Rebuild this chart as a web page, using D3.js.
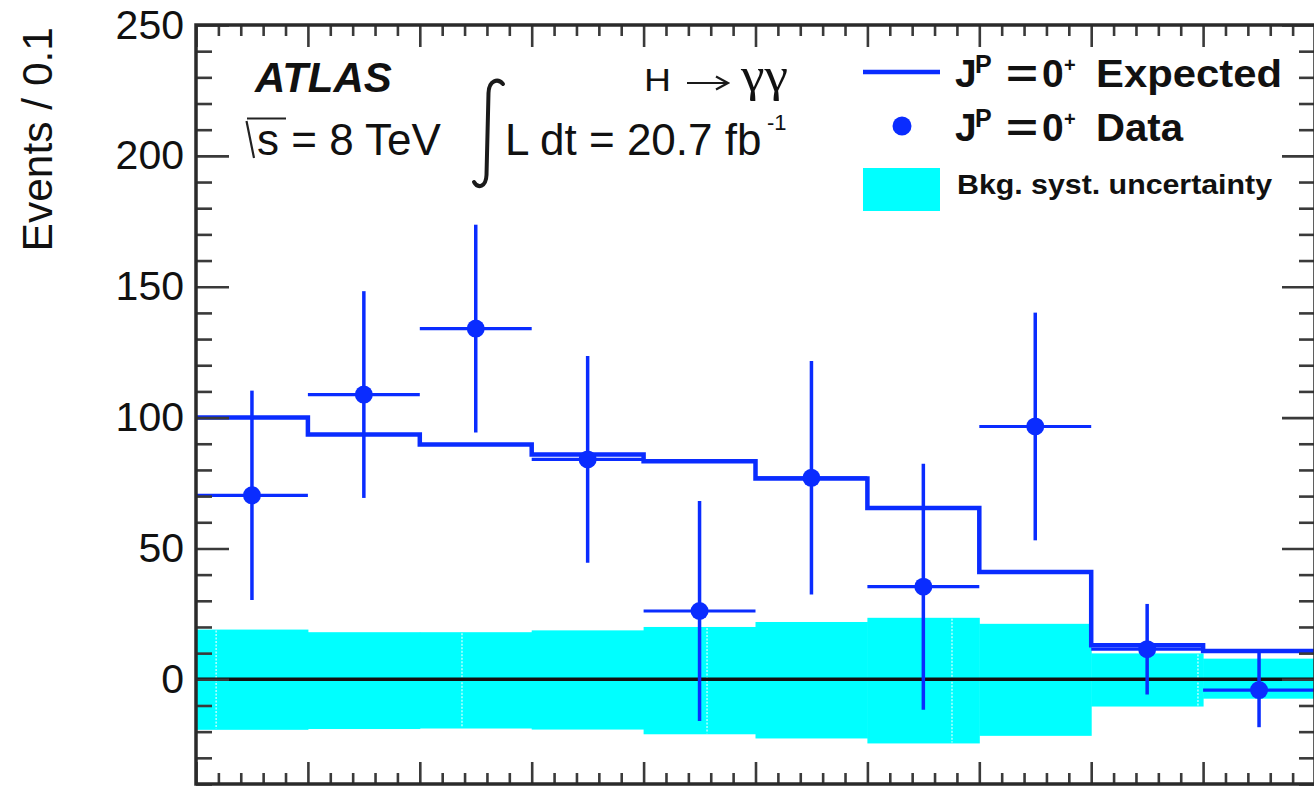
<!DOCTYPE html>
<html>
<head>
<meta charset="utf-8">
<script src="https://cdn.jsdelivr.net/npm/d3@7"></script>
<style>
  html, body { margin: 0; padding: 0; background: #fff; }
  svg { display: block; }
  text { font-family: "Liberation Sans", Arial, Helvetica, sans-serif; fill: #111; }
</style>
</head>
<body>
<svg id="chart" width="1314" height="787"></svg>
<script>
// Bins in |cos theta*| (width 0.1)
const binLow = [0.0, 0.1, 0.2, 0.3, 0.4, 0.5, 0.6, 0.7, 0.8, 0.9];
const binWidth = 0.1;

// Expected J^P = 0+ signal (events / 0.1)
const expected = [100, 93.5, 89.7, 85.9, 83.3, 76.7, 65.5, 41, 13, 10.8];

// Background-subtracted data and statistical errors
const dataVal = [70.3, 108.8, 134, 84, 26.1, 77, 35.4, 96.6, 11.5, -4.1];
const dataErr = [40, 39.5, 39.7, 39.5, 42, 44.6, 47, 43.5, 17.3, 14.2];

// Background systematic uncertainty band (upper / lower edge)
const bkgUp   = [19, 18, 18, 18.7, 20, 21.9, 23.5, 21.2, 9.9, 7.9];
const bkgDown = [-19.3, -19, -18.8, -19.2, -21, -22.6, -24.5, -21.6, -10.4, -7.4];

// Faint seams in the filled band
const bandSeams = [0.018, 0.2377, 0.4567, 0.6756, 0.8954];

// Axis ticks
const yMajorTicks = [0, 50, 100, 150, 200, 250];
const yTickLabels = ["0", "50", "100", "150", "200", "250"];
const xMajorTicks = [0, 0.1, 0.2, 0.3, 0.4, 0.5, 0.6, 0.7, 0.8, 0.9, 1.0];

const svg = d3.select("#chart");
const blue = "#0a2cff";

const x = d3.scaleLinear().domain([0, 1]).range([196, 1315]);
const y = d3.scaleLinear().domain([-40, 250]).range([784, 25]);

const plot = svg.append("g");

// Systematic band
plot.selectAll("rect.band")
  .data(binLow)
  .join("rect")
  .attr("class", "band")
  .attr("x", d => x(d))
  .attr("width", x(binWidth) - x(0) + 0.5)
  .attr("y", (d, i) => y(bkgUp[i]))
  .attr("height", (d, i) => y(bkgDown[i]) - y(bkgUp[i]))
  .attr("fill", "#00ffff");

// seams inside band
plot.selectAll("line.seam")
  .data(bandSeams)
  .join("line")
  .attr("class", "seam")
  .attr("x1", d => x(d)).attr("x2", d => x(d))
  .attr("y1", d => {
    const i = Math.min(9, Math.floor(d / binWidth));
    return y(bkgUp[i]) + 1;
  })
  .attr("y2", d => {
    const i = Math.min(9, Math.floor(d / binWidth));
    return y(bkgDown[i]) - 1;
  })
  .attr("stroke", "#ffffff")
  .attr("stroke-opacity", 0.75)
  .attr("stroke-width", 1.4)
  .attr("stroke-dasharray", "2,1.5");

// Zero line
plot.append("line")
  .attr("x1", x(0)).attr("x2", x(1))
  .attr("y1", y(0)).attr("y2", y(0))
  .attr("stroke", "#111")
  .attr("stroke-width", 3.5);

// Expected histogram (step line)
const stepPts = binLow.map((b, i) => [b, expected[i]]);
stepPts.push([binLow[binLow.length - 1] + binWidth, expected[expected.length - 1]]);
const stepLine = d3.line()
  .x(d => x(d[0]))
  .y(d => y(d[1]))
  .curve(d3.curveStepAfter);
plot.append("path")
  .attr("d", stepLine(stepPts))
  .attr("fill", "none")
  .attr("stroke", blue)
  .attr("stroke-width", 4.5)
  .attr("stroke-linejoin", "miter");

// Data points with error bars
const pts = plot.selectAll("g.pt")
  .data(binLow)
  .join("g")
  .attr("class", "pt");
pts.append("line")
  .attr("x1", d => x(d)).attr("x2", d => x(d + binWidth))
  .attr("y1", (d, i) => y(dataVal[i])).attr("y2", (d, i) => y(dataVal[i]))
  .attr("stroke", blue).attr("stroke-width", 3.2);
pts.append("line")
  .attr("x1", d => x(d + binWidth / 2)).attr("x2", d => x(d + binWidth / 2))
  .attr("y1", (d, i) => y(dataVal[i] + dataErr[i]))
  .attr("y2", (d, i) => y(dataVal[i] - dataErr[i]))
  .attr("stroke", blue).attr("stroke-width", 3.5);
pts.append("circle")
  .attr("cx", d => x(d + binWidth / 2))
  .attr("cy", (d, i) => y(dataVal[i]))
  .attr("r", 9)
  .attr("fill", blue);

// Axes (ticks point inward, ROOT style)
function styleAxis(g) {
  g.select(".domain").remove();
  g.selectAll(".tick line").attr("stroke", "#3a3a3a").attr("stroke-width", 2.6);
}
const yMinor = d3.range(-40, 251, 10).filter(v => v % 50 !== 0);
const xMinor = d3.range(0, 50).map(i => i * 0.02).filter((v, i) => i % 5 !== 0);

svg.append("g").attr("transform", `translate(${x(0)},0)`)
  .call(d3.axisLeft(y).tickValues(yMinor).tickSize(-16).tickFormat(""))
  .call(styleAxis);
svg.append("g").attr("transform", `translate(${x(0)},0)`)
  .call(d3.axisLeft(y).tickValues(yMajorTicks).tickSize(-33).tickPadding(12)
    .tickFormat((d, i) => yTickLabels[i]))
  .call(styleAxis)
  .call(g => g.selectAll(".tick text")
    .attr("fill", "#111")
    .style("font-family", "'Liberation Sans', Arial, sans-serif")
    .style("font-size", "41px"));
svg.append("g").attr("transform", `translate(${x(1)},0)`)
  .call(d3.axisRight(y).tickValues(yMinor).tickSize(-16).tickFormat(""))
  .call(styleAxis);
svg.append("g").attr("transform", `translate(${x(1)},0)`)
  .call(d3.axisRight(y).tickValues(yMajorTicks).tickSize(-33).tickFormat(""))
  .call(styleAxis);

svg.append("g").attr("transform", `translate(0,${y(-40)})`)
  .call(d3.axisBottom(x).tickValues(xMinor).tickSize(-11).tickFormat(""))
  .call(styleAxis);
svg.append("g").attr("transform", `translate(0,${y(-40)})`)
  .call(d3.axisBottom(x).tickValues(xMajorTicks).tickSize(-22).tickFormat(""))
  .call(styleAxis);
svg.append("g").attr("transform", `translate(0,${y(250)})`)
  .call(d3.axisTop(x).tickValues(xMinor).tickSize(-11).tickFormat(""))
  .call(styleAxis);
svg.append("g").attr("transform", `translate(0,${y(250)})`)
  .call(d3.axisTop(x).tickValues(xMajorTicks).tickSize(-22).tickFormat(""))
  .call(styleAxis);

// Frame
svg.append("rect")
  .attr("x", x(0)).attr("y", y(250))
  .attr("width", x(1) - x(0)).attr("height", y(-40) - y(250))
  .attr("fill", "none")
  .attr("stroke", "#2a2a2a")
  .attr("stroke-width", 3.5);

// Y axis title
svg.append("text")
  .attr("transform", "translate(52,27) rotate(-90)")
  .attr("text-anchor", "end")
  .style("font-size", "42.5px")
  .text("Events / 0.1");

// ATLAS label
svg.append("text")
  .attr("x", 255).attr("y", 92)
  .style("font-size", "42px")
  .style("font-weight", "bold")
  .style("font-style", "italic")
  .text("ATLAS");

// sqrt(s) = 8 TeV
svg.append("path")
  .attr("d", "M246.5,121 L254,158 M247,118.5 H286")
  .attr("fill", "none")
  .attr("stroke", "#222")
  .attr("stroke-width", 2.2);
svg.append("text")
  .attr("x", 257).attr("y", 155)
  .style("font-size", "44px")
  .text("s = 8 TeV");

// integrated luminosity
svg.append("path")
  .attr("d", "M503,84 C498,78 489,80 488.5,93 L486.5,175 C486,187 478,189 474,182")
  .attr("fill", "none")
  .attr("stroke", "#1a1a1a")
  .attr("stroke-width", 4)
  .attr("stroke-linecap", "round");
svg.append("text")
  .attr("x", 505).attr("y", 155)
  .style("font-size", "44px")
  .text("L dt = 20.7 fb");
svg.append("text")
  .attr("x", 767).attr("y", 130)
  .style("font-size", "22px")
  .text("-1");

// Channel label: H -> gamma gamma
svg.append("text")
  .attr("x", 644).attr("y", 91)
  .attr("textLength", 27)
  .attr("lengthAdjust", "spacingAndGlyphs")
  .style("font-size", "32px")
  .text("H");
svg.append("path")
  .attr("d", "M687,83 H727 M716,76.5 L728,83 L716,89.5")
  .attr("fill", "none")
  .attr("stroke", "#1a1a1a")
  .attr("stroke-width", 2.2);
svg.append("text")
  .attr("x", 741).attr("y", 91)
  .attr("textLength", 47)
  .attr("lengthAdjust", "spacingAndGlyphs")
  .style("font-family", "'Liberation Serif', 'Times New Roman', serif")
  .style("font-size", "48px")
  .text("\u03B3\u03B3");

// Legend
const leg = svg.append("g");
leg.append("line")
  .attr("x1", 863).attr("x2", 940).attr("y1", 72).attr("y2", 72)
  .attr("stroke", blue).attr("stroke-width", 4.5);
leg.append("circle")
  .attr("cx", 902).attr("cy", 126).attr("r", 9.5)
  .attr("fill", blue);
leg.append("rect")
  .attr("x", 863).attr("y", 168).attr("width", 77).attr("height", 43)
  .attr("fill", "#00ffff");

function jpLabel(yBase, word, wordLen) {
  const g = leg.append("g").style("font-weight", "bold");
  g.append("text").attr("x", 955).attr("y", yBase).style("font-size", "39px").text("J");
  g.append("text").attr("x", 975).attr("y", yBase - 14).style("font-size", "25px").text("P");
  g.append("text").attr("x", 1006).attr("y", yBase)
    .attr("textLength", 32).attr("lengthAdjust", "spacingAndGlyphs")
    .style("font-size", "39px").text("=");
  g.append("text").attr("x", 1042).attr("y", yBase).style("font-size", "39px").text("0");
  g.append("text").attr("x", 1064).attr("y", yBase - 15).style("font-size", "20px").text("+");
  g.append("text").attr("x", 1096).attr("y", yBase)
    .attr("textLength", wordLen).attr("lengthAdjust", "spacingAndGlyphs")
    .style("font-size", "39px").text(word);
}
jpLabel(87, "Expected", 186);
jpLabel(141, "Data", 87);

leg.append("text")
  .attr("x", 957).attr("y", 194)
  .attr("textLength", 315)
  .attr("lengthAdjust", "spacingAndGlyphs")
  .style("font-size", "28px")
  .style("font-weight", "bold")
  .text("Bkg. syst. uncertainty");
</script>
</body>
</html>
